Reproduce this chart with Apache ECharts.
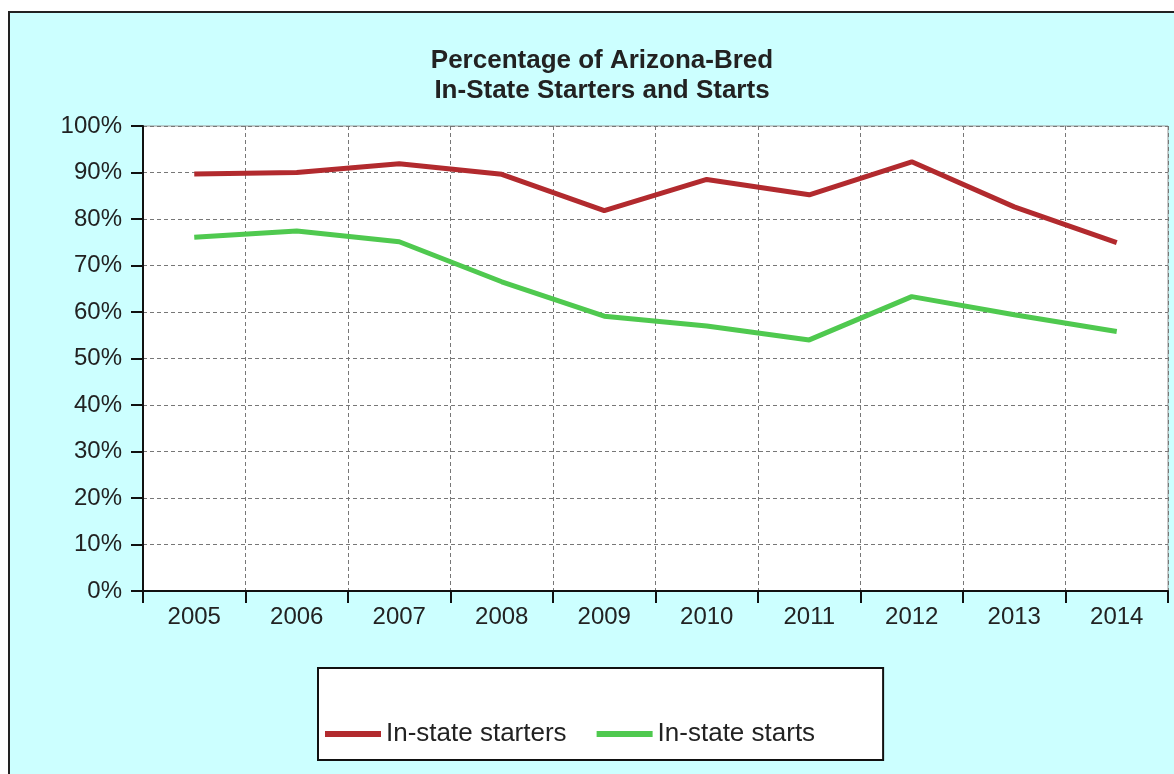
<!DOCTYPE html>
<html>
<head>
<meta charset="utf-8">
<script src="https://cdn.jsdelivr.net/npm/echarts@6/dist/echarts.min.js"></script>
<style>
  html, body { margin: 0; padding: 0; background: #ffffff; }
  #wrap { position: relative; width: 1174px; height: 774px; overflow: hidden; background: #ffffff; }
  #frame { position: absolute; left: 8px; top: 11px; width: 1200px; height: 800px; border: 2px solid #222; background: #ccffff; }
  #chart { position: absolute; left: 0; top: 0; width: 1174px; height: 774px; }
</style>
</head>
<body>
<div id="wrap">
  <div id="frame"></div>
  <div id="chart"></div>
</div>
<script>
const years = ['2005','2006','2007','2008','2009','2010','2011','2012','2013','2014'];
const starters = [89.7, 90.0, 91.9, 89.6, 81.8, 88.5, 85.2, 92.3, 82.6, 74.9];
const starts = [76.1, 77.4, 75.1, 66.5, 59.1, 57.0, 54.0, 63.3, 59.4, 55.8];
const seriesNames = ['In-state starters', 'In-state starts'];
const titleText = 'Percentage of Arizona-Bred\nIn-State Starters and Starts';

const chart = echarts.init(document.getElementById('chart'), null, { renderer: 'canvas' });
const font = 'Arial, "Liberation Sans", sans-serif';
chart.setOption({
  backgroundColor: 'transparent',
  animation: false,
  title: {
    text: titleText,
    left: 597, textAlign: 'center',
    top: 41,
    textStyle: { fontFamily: font, fontSize: 26, fontWeight: 'bold', color: '#222', lineHeight: 30 }
  },
  grid: {
    left: 143, top: 126, right: 6, bottom: 183,
    show: true, backgroundColor: '#ffffff', borderColor: '#999', borderWidth: 1
  },
  legend: {
    left: 318, top: 668,
    padding: [53, 68, 13, 7],
    backgroundColor: '#ffffff', borderColor: '#111', borderWidth: 2,
    itemWidth: 56, itemHeight: 6, itemGap: 30,
    icon: 'rect',
    textStyle: { fontFamily: font, fontSize: 26, color: '#222' },
    data: seriesNames
  },
  xAxis: {
    type: 'category', data: years, boundaryGap: true,
    axisLine: { lineStyle: { color: '#111', width: 2 } },
    axisTick: { show: true, length: 12, lineStyle: { color: '#111', width: 2 } },
    axisLabel: { fontFamily: font, fontSize: 24, color: '#222', margin: 14 },
    splitLine: { show: true, lineStyle: { color: '#777', type: [4, 3], width: 1 } }
  },
  yAxis: {
    type: 'value', min: 0, max: 100, interval: 10,
    axisLine: { show: true, lineStyle: { color: '#111', width: 2 } },
    axisTick: { show: true, length: 12, lineStyle: { color: '#111', width: 2 } },
    axisLabel: { fontFamily: font, fontSize: 24, color: '#222', margin: 21, formatter: '{value}%' },
    splitLine: { show: true, lineStyle: { color: '#777', type: [4, 3], width: 1 } }
  },
  series: [
    { name: seriesNames[0], type: 'line', data: starters, showSymbol: false, symbol: 'none',
      lineStyle: { color: '#b22a2e', width: 5 }, itemStyle: { color: '#b22a2e' } },
    { name: seriesNames[1], type: 'line', data: starts, showSymbol: false, symbol: 'none',
      lineStyle: { color: '#4fc94f', width: 5 }, itemStyle: { color: '#4fc94f' } }
  ]
});
</script>
</body>
</html>
